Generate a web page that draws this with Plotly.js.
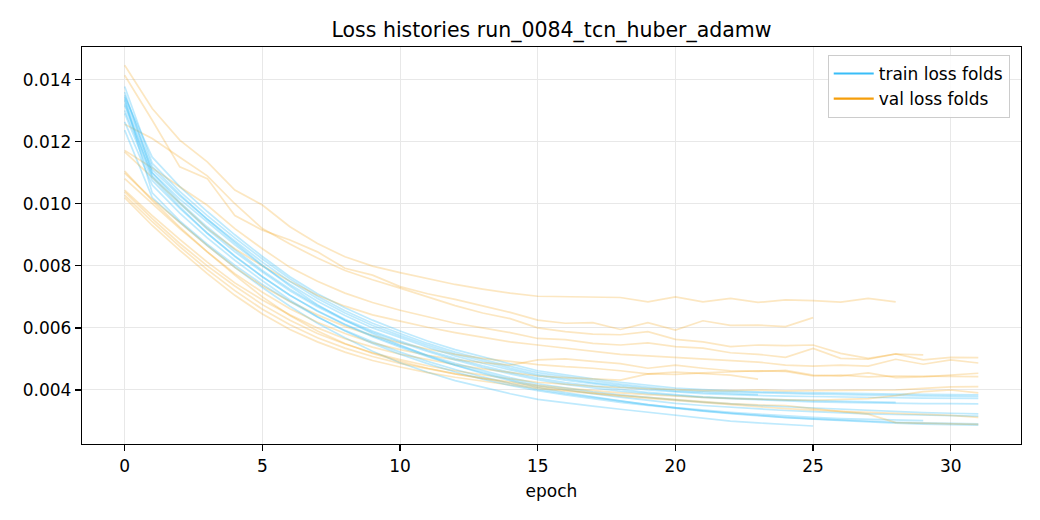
<!DOCTYPE html>
<html>
<head>
<meta charset="utf-8">
<script src="https://cdn.plot.ly/plotly-3.0.1.min.js"></script>
<style>
  html, body { margin: 0; padding: 0; background: #ffffff; }
  #chart { width: 1040px; height: 520px; }
</style>
</head>
<body>
<div id="chart"></div>
<script>
// ---- data (loss per epoch, one array per fold) ----
const trainFold1  = [0.01360,0.01100,0.01005,0.00925,0.00852,0.00785,0.00725,0.00672,0.00628,0.00590,0.00558,0.00528,0.00502,0.00478,0.00457,0.00438,0.00424,0.00412,0.00402,0.00392,0.00384,0.00378,0.00374,0.00370,0.00368,0.00366,0.00364,0.00362,0.00360];
const trainFold2  = [0.01237,0.01020,0.00940,0.00865,0.00795,0.00730,0.00670,0.00615,0.00568,0.00525,0.00488,0.00457,0.00430,0.00408,0.00388,0.00370,0.00358,0.00348,0.00338,0.00328,0.00318,0.00308,0.00300,0.00294,0.00289,0.00284];
const trainFold3  = [0.01339,0.01035,0.00945,0.00870,0.00802,0.00740,0.00685,0.00635,0.00592,0.00555,0.00522,0.00492,0.00466,0.00442,0.00421,0.00402,0.00388,0.00376,0.00364,0.00353,0.00343,0.00335,0.00328,0.00322,0.00316,0.00312,0.00308,0.00305,0.00303,0.00301];
const trainFold4  = [0.01344,0.01150,0.01055,0.00975,0.00900,0.00830,0.00765,0.00710,0.00665,0.00625,0.00590,0.00558,0.00530,0.00506,0.00484,0.00462,0.00448,0.00436,0.00425,0.00415,0.00406,0.00401,0.00397,0.00394,0.00392,0.00390,0.00389,0.00388,0.00387,0.00386,0.00385,0.00384];
const trainFold5  = [0.01378,0.01130,0.01040,0.00962,0.00890,0.00822,0.00758,0.00702,0.00655,0.00615,0.00582,0.00550,0.00522,0.00498,0.00476,0.00456,0.00442,0.00430,0.00419,0.00409,0.00400,0.00396,0.00393,0.00391,0.00389,0.00387,0.00385,0.00383,0.00382,0.00381,0.00380,0.00379];
const trainFold6  = [0.01333,0.01110,0.01025,0.00950,0.00880,0.00812,0.00750,0.00695,0.00648,0.00608,0.00575,0.00544,0.00516,0.00492,0.00470,0.00450,0.00436,0.00424,0.00414,0.00404,0.00396,0.00392,0.00388,0.00385];
const trainFold7  = [0.01317,0.01100,0.01015,0.00940,0.00868,0.00800,0.00740,0.00686,0.00640,0.00600,0.00568,0.00538,0.00510,0.00486,0.00465,0.00446,0.00432,0.00420,0.00409,0.00400,0.00393,0.00388,0.00385,0.00382,0.00380,0.00379,0.00377,0.00376,0.00375,0.00374,0.00374,0.00373];
const trainFold8  = [0.01301,0.01090,0.01000,0.00918,0.00845,0.00780,0.00720,0.00668,0.00624,0.00586,0.00554,0.00524,0.00497,0.00473,0.00452,0.00433,0.00418,0.00406,0.00396,0.00388,0.00381,0.00376,0.00372,0.00368,0.00365,0.00362,0.00360,0.00358,0.00357,0.00356,0.00356,0.00355];
const trainFold9  = [0.01291,0.01075,0.00985,0.00905,0.00830,0.00765,0.00705,0.00655,0.00612,0.00575,0.00542,0.00512,0.00486,0.00462,0.00440,0.00420,0.00406,0.00394,0.00384,0.00375,0.00368,0.00361,0.00355,0.00350,0.00346,0.00342,0.00338,0.00334,0.00330,0.00327,0.00325,0.00323];
const trainFold10 = [0.01323,0.01085,0.00990,0.00905,0.00832,0.00765,0.00705,0.00654,0.00610,0.00572,0.00538,0.00507,0.00480,0.00456,0.00434,0.00414,0.00400,0.00388,0.00377,0.00366,0.00357,0.00350,0.00344,0.00339,0.00334,0.00330,0.00326,0.00323,0.00321,0.00319,0.00317,0.00316];
const trainFold11 = [0.01350,0.01120,0.01030,0.00950,0.00875,0.00802,0.00735,0.00675,0.00625,0.00582,0.00545,0.00510,0.00480,0.00453,0.00430,0.00408,0.00392,0.00378,0.00365,0.00353,0.00342,0.00333,0.00325,0.00318,0.00312,0.00307,0.00303,0.00299,0.00296,0.00294,0.00292,0.00291];
const trainFold12 = [0.01264,0.01060,0.00970,0.00890,0.00818,0.00752,0.00690,0.00636,0.00590,0.00550,0.00515,0.00485,0.00458,0.00435,0.00415,0.00398,0.00384,0.00371,0.00360,0.00350,0.00340,0.00332,0.00324,0.00317,0.00311,0.00306,0.00301,0.00297,0.00293,0.00290,0.00288,0.00287];

const valFold1  = [0.01446,0.01307,0.01205,0.01135,0.01044,0.00996,0.00926,0.00872,0.00829,0.00799,0.00778,0.00758,0.00740,0.00725,0.00712,0.00702,0.00700,0.00699,0.00698,0.00684,0.00700,0.00684,0.00695,0.00682,0.00690,0.00688,0.00683,0.00695,0.00684];
const valFold2  = [0.01414,0.01269,0.01119,0.01081,0.00962,0.00915,0.00883,0.00845,0.00792,0.00770,0.00733,0.00710,0.00692,0.00672,0.00650,0.00625,0.00615,0.00617,0.00595,0.00617,0.00593,0.00623,0.00608,0.00609,0.00604,0.00633];
const valFold3  = [0.01256,0.01210,0.01150,0.01090,0.01000,0.00920,0.00870,0.00825,0.00785,0.00755,0.00728,0.00700,0.00672,0.00648,0.00630,0.00600,0.00588,0.00580,0.00578,0.00588,0.00563,0.00555,0.00540,0.00545,0.00543,0.00545,0.00518,0.00502,0.00516,0.00513];
const valFold4  = [0.01172,0.01115,0.01055,0.00995,0.00920,0.00855,0.00795,0.00750,0.00712,0.00682,0.00657,0.00635,0.00615,0.00600,0.00585,0.00566,0.00562,0.00550,0.00545,0.00552,0.00540,0.00535,0.00520,0.00515,0.00505,0.00534,0.00502,0.00499,0.00516,0.00497,0.00505,0.00504];
const valFold5  = [0.01167,0.01085,0.01000,0.00920,0.00855,0.00800,0.00750,0.00705,0.00670,0.00642,0.00622,0.00602,0.00585,0.00570,0.00555,0.00545,0.00535,0.00525,0.00515,0.00510,0.00505,0.00502,0.00495,0.00490,0.00480,0.00477,0.00480,0.00477,0.00499,0.00483,0.00497,0.00487];
const valFold6  = [0.01099,0.01015,0.00940,0.00865,0.00795,0.00735,0.00685,0.00642,0.00605,0.00575,0.00552,0.00532,0.00515,0.00502,0.00492,0.00482,0.00475,0.00470,0.00462,0.00452,0.00458,0.00454,0.00448,0.00435];
const valFold7  = [0.01081,0.01000,0.00920,0.00845,0.00775,0.00715,0.00662,0.00618,0.00582,0.00552,0.00530,0.00512,0.00498,0.00488,0.00480,0.00497,0.00500,0.00492,0.00485,0.00470,0.00480,0.00470,0.00462,0.00460,0.00463,0.00448,0.00445,0.00455,0.00440,0.00442,0.00448,0.00454];
const valFold8  = [0.01044,0.00962,0.00885,0.00812,0.00745,0.00690,0.00642,0.00600,0.00565,0.00538,0.00515,0.00498,0.00482,0.00468,0.00456,0.00445,0.00440,0.00435,0.00432,0.00452,0.00450,0.00455,0.00458,0.00462,0.00460,0.00445,0.00448,0.00442,0.00445,0.00444,0.00442,0.00443];
const valFold9  = [0.01038,0.00952,0.00872,0.00800,0.00735,0.00675,0.00625,0.00582,0.00548,0.00520,0.00498,0.00478,0.00462,0.00448,0.00436,0.00425,0.00418,0.00412,0.00408,0.00404,0.00400,0.00398,0.00398,0.00400,0.00397,0.00398,0.00397,0.00398,0.00400,0.00405,0.00410,0.00411];
const valFold10 = [0.01028,0.00942,0.00862,0.00788,0.00720,0.00660,0.00610,0.00568,0.00535,0.00508,0.00486,0.00468,0.00452,0.00438,0.00426,0.00415,0.00406,0.00398,0.00391,0.00385,0.00380,0.00376,0.00373,0.00370,0.00368,0.00367,0.00370,0.00372,0.00382,0.00395,0.00400,0.00391];
const valFold11 = [0.01020,0.00930,0.00850,0.00775,0.00705,0.00645,0.00595,0.00555,0.00522,0.00495,0.00474,0.00456,0.00441,0.00428,0.00416,0.00405,0.00396,0.00388,0.00380,0.00373,0.00366,0.00358,0.00352,0.00346,0.00340,0.00335,0.00331,0.00328,0.00325,0.00321,0.00318,0.00312];
const valFold12 = [0.01105,0.01010,0.00925,0.00845,0.00770,0.00700,0.00640,0.00590,0.00550,0.00518,0.00492,0.00470,0.00452,0.00436,0.00422,0.00410,0.00400,0.00391,0.00383,0.00376,0.00368,0.00362,0.00356,0.00352,0.00350,0.00340,0.00330,0.00322,0.00295,0.00293,0.00292,0.00289];

const trainFolds = [trainFold1,trainFold2,trainFold3,trainFold4,trainFold5,trainFold6,trainFold7,trainFold8,trainFold9,trainFold10,trainFold11,trainFold12];
const valFolds   = [valFold1,valFold2,valFold3,valFold4,valFold5,valFold6,valFold7,valFold8,valFold9,valFold10,valFold11,valFold12];
const xTicks = [0,5,10,15,20,25,30];
const yTicks = [0.004,0.006,0.008,0.010,0.012,0.014];
const seriesNames = ['train loss folds','val loss folds'];

// ---- styles ----
const TRAIN_COLOR = '#38bdf8';
const VAL_COLOR = '#f59e0b';
const TRAIN_FADED = 'rgba(56,189,248,0.32)';
const VAL_FADED = 'rgba(245,158,11,0.25)';
const FONT = 'DejaVu Sans, sans-serif';

const epochs = arr => arr.map((_, i) => i);
const traces = [];
for (let k = 0; k < trainFolds.length; k++) {
  traces.push({x: epochs(trainFolds[k]), y: trainFolds[k], mode: 'lines', type: 'scatter',
    line: {color: TRAIN_FADED, width: 1.7}, showlegend: false, hoverinfo: 'skip'});
  traces.push({x: epochs(valFolds[k]), y: valFolds[k], mode: 'lines', type: 'scatter',
    line: {color: VAL_FADED, width: 1.7}, showlegend: false, hoverinfo: 'skip'});
}
traces.push({x: [null], y: [null], mode: 'lines', type: 'scatter', name: seriesNames[0],
  line: {color: TRAIN_COLOR, width: 2.2}, showlegend: true});
traces.push({x: [null], y: [null], mode: 'lines', type: 'scatter', name: seriesNames[1],
  line: {color: VAL_COLOR, width: 2.2}, showlegend: true});

const layout = {
  width: 1040, height: 520,
  margin: {l: 82, r: 19, t: 47, b: 76, pad: 0},
  paper_bgcolor: '#ffffff', plot_bgcolor: '#ffffff',
  font: {family: FONT, size: 17, color: '#000000'},
  title: {text: 'Loss histories run_0084_tcn_huber_adamw', font: {family: FONT, size: 20.5, color: '#000'},
    x: 0.5, xref: 'paper', xanchor: 'center', y: 1 - 30/520, yref: 'container', yanchor: 'middle'},
  xaxis: {
    range: [-1.55, 32.55], tickvals: xTicks, ticktext: xTicks.map(String),
    showgrid: true, gridcolor: '#e8e8e8', gridwidth: 1, zeroline: false,
    showline: true, mirror: true, linecolor: '#000', linewidth: 1.2,
    ticks: 'outside', ticklen: 6, tickwidth: 1.2, tickcolor: '#000',
    tickfont: {family: FONT, size: 17},
    title: {text: 'epoch', font: {family: FONT, size: 17}, standoff: 10}
  },
  yaxis: {
    range: [0.00226, 0.01505], tickvals: yTicks, ticktext: yTicks.map(v => v.toFixed(3)),
    showgrid: true, gridcolor: '#e8e8e8', gridwidth: 1, zeroline: false,
    showline: true, mirror: true, linecolor: '#000', linewidth: 1.2,
    ticks: 'outside', ticklen: 6, tickwidth: 1.2, tickcolor: '#000',
    tickfont: {family: FONT, size: 17}
  },
  legend: {
    x: 0.988, y: 0.98, xanchor: 'right', yanchor: 'top',
    bgcolor: 'rgba(255,255,255,0.85)', bordercolor: '#cccccc', borderwidth: 1,
    font: {family: FONT, size: 17}, itemwidth: 40
  },
  showlegend: true
};

Plotly.newPlot('chart', traces, layout, {staticPlot: true, displayModeBar: false});
</script>
</body>
</html>
